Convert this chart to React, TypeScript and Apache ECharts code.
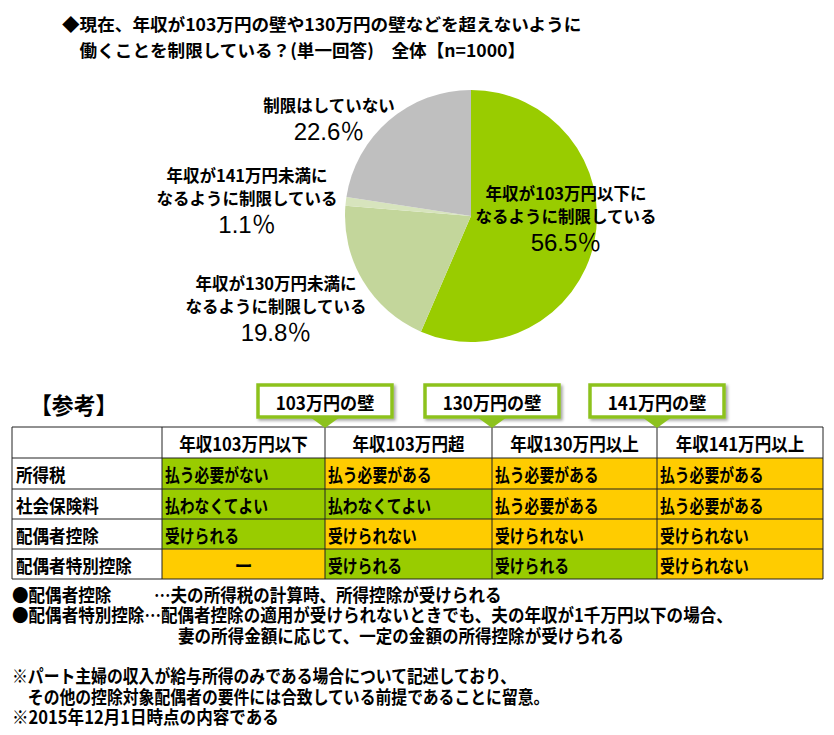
import React, { useEffect, useRef } from 'react';
import * as echarts from 'echarts';

// ---- data ----
const titleLines = [
  '◆現在、年収が103万円の壁や130万円の壁などを超えないように',
  '　働くことを制限している？(単一回答)　全体【n=1000】',
];
const pieNames = [
  '年収が103万円以下に\nなるように制限している',
  '年収が130万円未満に\nなるように制限している',
  '年収が141万円未満に\nなるように制限している',
  '制限はしていない',
];
const pieValues = [56.5, 19.8, 1.1, 22.6];

const refTitle = '【参考】';
const wallLabels = ['103万円の壁', '130万円の壁', '141万円の壁'];
const colHeaders = ['年収103万円以下', '年収103万円超', '年収130万円以上', '年収141万円以上'];
const rowHeaders = ['所得税', '社会保険料', '配偶者控除', '配偶者特別控除'];
const cellTexts = [
  ['払う必要がない', '払う必要がある', '払う必要がある', '払う必要がある'],
  ['払わなくてよい', '払わなくてよい', '払う必要がある', '払う必要がある'],
  ['受けられる', '受けられない', '受けられない', '受けられない'],
  ['ー', '受けられる', '受けられる', '受けられない'],
];
// 1 = favourable (green), 0 = not (orange)
const cellFavourable = [
  [1, 0, 0, 0],
  [1, 1, 0, 0],
  [1, 0, 0, 0],
  [0, 1, 1, 0],
];
const noteHeads = ['●配偶者控除', '●配偶者特別控除…配偶者控除の適用が受けられないときでも、夫の年収が1千万円以下の場合、'];
const noteLines = [
  '…夫の所得税の計算時、所得控除が受けられる',
  '妻の所得金額に応じて、一定の金額の所得控除が受けられる',
  '※パート主婦の収入が給与所得のみである場合について記述しており、',
  '　その他の控除対象配偶者の要件には合致している前提であることに留意。',
  '※2015年12月1日時点の内容である',
];

// ---- styles / layout ----
const FONT = "'Noto Sans CJK JP', 'Noto Sans CJK SC', sans-serif";
const pieColors = ['#99CC00', '#C3D69B', '#D7E4BD', '#BFBFBF'];
const GREEN = '#99CC00';
const ORANGE = '#FFCC00';
const BOX_GREEN = '#8DC21F';
const labelAnchors = [
  [566, 181],
  [276, 271],
  [247, 163],
  [329, 93],
];
const colX = [12, 162, 325, 492, 657, 823];
const rowY = [427, 458, 489, 519, 549, 579];

function buildGraphics() {
  const els: any[] = [];
  const txt = (x: number, y: number, text: string, size: number, opts: any = {}) => ({
    type: 'text',
    x,
    y,
    scaleX: opts.scaleX ?? 1,
    z: 10,
    style: {
      x: 0,
      y: 0,
      text,
      fontSize: size,
      fontWeight: opts.weight ?? 'bold',
      fontFamily: FONT,
      fill: '#000',
      align: opts.align ?? 'left',
      verticalAlign: 'middle',
    },
  });

  els.push(txt(30, 404, refTitle, 23, { scaleX: 0.95 }));

  // wall boxes
  wallLabels.forEach((w, i) => {
    const cx = colX[i + 2];
    els.push({
      type: 'rect',
      z: 5,
      shape: { x: cx - 67, y: 385, width: 134, height: 32 },
      style: {
        fill: '#fff',
        stroke: BOX_GREEN,
        lineWidth: 3.5,
        shadowBlur: 3,
        shadowOffsetX: 2,
        shadowOffsetY: 2,
        shadowColor: 'rgba(0,0,0,0.35)',
      },
    });
    els.push({
      type: 'polygon',
      z: 5,
      shape: { points: [[cx - 15, 417], [cx + 15, 417], [cx, 428]] },
      style: { fill: BOX_GREEN },
    });
    els.push(txt(cx, 402, w, 18, { align: 'center', scaleX: 0.95 }));
  });

  // fills
  for (let r = 0; r < rowHeaders.length; r++) {
    for (let c = 0; c < colHeaders.length; c++) {
      els.push({
        type: 'rect',
        z: 1,
        shape: {
          x: colX[c + 1],
          y: rowY[r + 1],
          width: colX[c + 2] - colX[c + 1],
          height: rowY[r + 2] - rowY[r + 1],
        },
        style: { fill: cellFavourable[r][c] ? GREEN : ORANGE },
      });
    }
  }
  // grid lines
  rowY.forEach((y) => {
    els.push({
      type: 'line',
      z: 2,
      shape: { x1: colX[0], y1: y, x2: colX[colX.length - 1], y2: y },
      style: { stroke: '#222', lineWidth: 1 },
    });
  });
  colX.forEach((x) => {
    els.push({
      type: 'line',
      z: 2,
      shape: { x1: x, y1: rowY[0], x2: x, y2: rowY[rowY.length - 1] },
      style: { stroke: '#222', lineWidth: 1 },
    });
  });

  // header texts
  colHeaders.forEach((h, c) => {
    els.push(txt((colX[c + 1] + colX[c + 2]) / 2, (rowY[0] + rowY[1]) / 2 + 1, h, 18, { align: 'center', scaleX: 0.92 }));
  });
  rowHeaders.forEach((h, r) => {
    const cy = (rowY[r + 1] + rowY[r + 2]) / 2 + 1;
    els.push(txt(colX[0] + 4, cy, h, 18, { scaleX: 0.92 }));
    cellTexts[r].forEach((t, c) => {
      if (t === 'ー') {
        els.push(txt((colX[c + 1] + colX[c + 2]) / 2, cy, t, 18, { align: 'center' }));
      } else {
        els.push(txt(colX[c + 1] + 3, cy, t, 18.5, { scaleX: 0.8 }));
      }
    });
  });

  // notes
  els.push(txt(12, 594, noteHeads[0], 18, { scaleX: 0.92 }));
  els.push(txt(154, 594, noteLines[0], 18, { scaleX: 0.92 }));
  els.push(txt(12, 614, noteHeads[1], 18, { scaleX: 0.92 }));
  els.push(txt(178, 635, noteLines[1], 18, { scaleX: 0.92 }));
  els.push(txt(12, 675, noteLines[2], 18, { scaleX: 0.88 }));
  els.push(txt(12, 696, noteLines[3], 18, { scaleX: 0.88 }));
  els.push(txt(12, 716, noteLines[4], 18, { scaleX: 0.92 }));
  return els;
}

export default function App() {
  const ref = useRef<HTMLDivElement>(null);
  useEffect(() => {
    if (!ref.current) return;
    const chart = echarts.init(ref.current, undefined, { renderer: 'svg' });
    chart.setOption({
      animation: false,
      backgroundColor: '#fff',
      title: {
        text: titleLines.join('\n'),
        left: 57,
        top: 5,
        textStyle: {
          fontSize: 17.6,
          fontWeight: 'bold',
          fontFamily: FONT,
          color: '#000',
          lineHeight: 26,
        },
      },
      series: [
        {
          type: 'pie',
          center: [471, 216],
          radius: 126,
          startAngle: 90,
          clockwise: true,
          avoidLabelOverlap: false,
          color: pieColors,
          itemStyle: { borderWidth: 0 },
          labelLine: { show: false },
          label: {
            show: true,
            position: 'outside',
            color: '#000',
            formatter: (p: any) => {
              const lines = String(p.name).split('\n').map((l: string) => `{n|${l}}`);
              return lines.join('\n') + `\n{p|${Number(p.value).toFixed(1)}％}`;
            },
            rich: {
              n: { fontSize: 16.5, fontWeight: 'bold', fontFamily: FONT, lineHeight: 23, color: '#000' },
              p: { fontSize: 24, fontWeight: 'normal', fontFamily: "'Liberation Sans', " + FONT, lineHeight: 30, color: '#000' },
            },
          },
          labelLayout: (params: any) => {
            const a = labelAnchors[params.dataIndex];
            return { x: a[0], y: a[1], align: 'center', verticalAlign: 'top' };
          },
          data: pieNames.map((n, i) => ({ name: n, value: pieValues[i] })),
        },
      ],
      graphic: buildGraphics(),
    });
    return () => chart.dispose();
  }, []);
  return (
    <div
      ref={ref}
      style={{ position: 'fixed', left: 0, top: 0, width: 834, height: 735, background: '#fff' }}
    />
  );
}
